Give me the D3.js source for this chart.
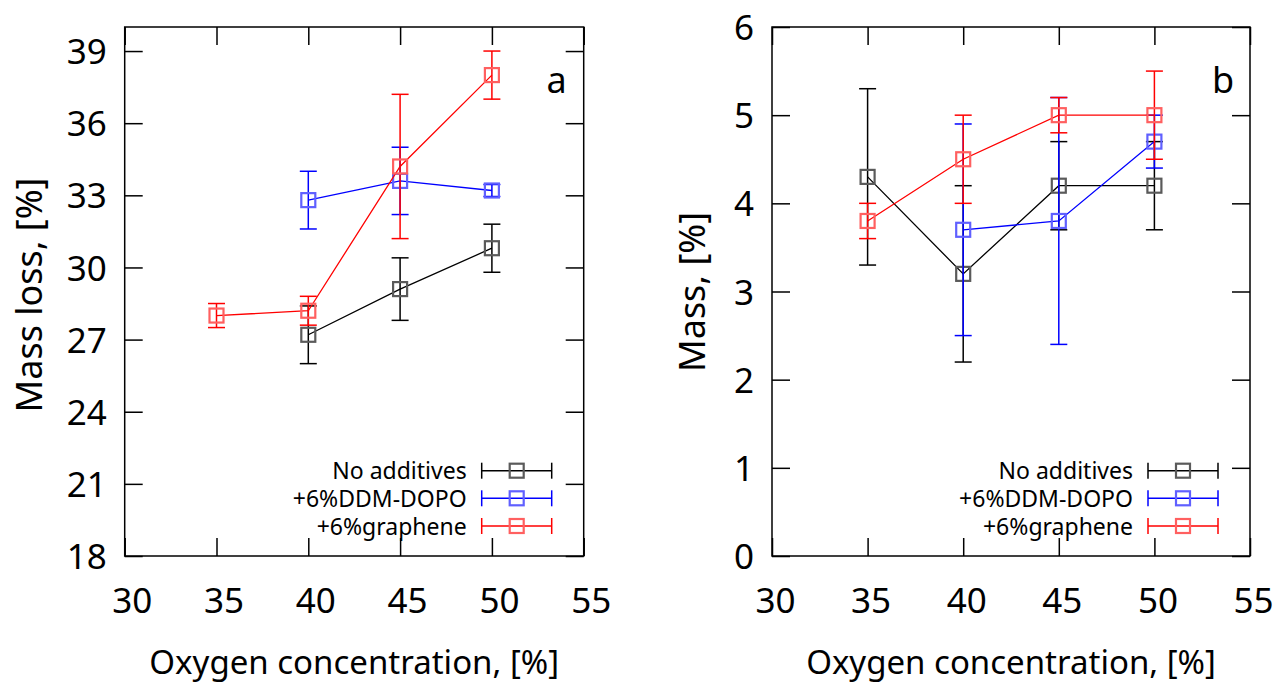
<!DOCTYPE html>
<html>
<head>
<meta charset="utf-8">
<script src="https://cdn.jsdelivr.net/npm/d3@7"></script>
<style>
  body { margin: 0; background: #fff; }
  text { font-family: "Noto Sans", sans-serif; fill: #000; }
</style>
</head>
<body>
<svg width="1274" height="684"></svg>
<script>
// x values shared by both panels
const oxygen = [35, 40, 45, 50];
const xTicks = [30, 35, 40, 45, 50, 55];

// panel a: mass loss
const lossNone = [null, 27.2, 29.1, 30.8];
const lossNoneErr = [null, 1.2, 1.3, 1.0];
const lossDopo = [null, 32.8, 33.6, 33.2];
const lossDopoErr = [null, 1.2, 1.4, 0.25];
const lossGraphene = [28.0, 28.2, 34.2, 38.0];
const lossGrapheneErr = [0.5, 0.6, 3.0, 1.0];
const lossTicks = [18, 21, 24, 27, 30, 33, 36, 39];

// panel b: mass
const massNone = [4.3, 3.2, 4.2, 4.2];
const massNoneErr = [1.0, 1.0, 0.5, 0.5];
const massDopo = [null, 3.7, 3.8, 4.7];
const massDopoErr = [null, 1.2, 1.4, 0.3];
const massGraphene = [3.8, 4.5, 5.0, 5.0];
const massGrapheneErr = [0.2, 0.5, 0.2, 0.5];
const massTicks = [0, 1, 2, 3, 4, 5, 6];

const seriesNames = ["No additives", "+6%DDM-DOPO", "+6%graphene"];
const seriesColors = ["#000000", "#0000ff", "#ff0000"];
const markerColors = ["#5a5a5a", "#6060ff", "#ff6060"];

const svg = d3.select("svg");

function toPoints(vals, errs) {
  return oxygen.map((x, i) => ({ x: x, v: vals[i], e: errs[i] })).filter(d => d.v != null);
}

function drawPanel(p) {
  const x = d3.scaleLinear().domain([30, 55]).range([p.left, p.right]);
  const y = d3.scaleLinear().domain(p.yDomain).range([556, 27]);
  const g = svg.append("g");
  const tick = 18;

  // axes, ticks pointing inwards
  const bottom = g.append("g").attr("transform", "translate(0,556)")
    .call(d3.axisBottom(x).tickValues(xTicks).tickSize(-tick).tickPadding(32));
  bottom.selectAll("text").attr("dx", p.labelShift);
  const left = g.append("g").attr("transform", `translate(${p.left},0)`)
    .call(d3.axisLeft(y).tickValues(p.yTicks).tickSize(-tick).tickPadding(18)
      .tickFormat(d3.format("d")));
  left.selectAll("text").attr("dy", "0.36em");
  g.append("g").attr("transform", "translate(0,27)")
    .call(d3.axisTop(x).tickValues(xTicks).tickSize(-tick).tickFormat(""));
  g.append("g").attr("transform", `translate(${p.right},0)`)
    .call(d3.axisRight(y).tickValues(p.yTicks).tickSize(-tick).tickFormat(""));
  g.selectAll(".domain").remove();
  g.selectAll(".tick line").attr("stroke", "#000").attr("stroke-width", 1.5);
  g.selectAll(".tick text").style("font-size", "35px").style("font-family", "Noto Sans");

  g.append("rect")
    .attr("x", p.left).attr("y", 27)
    .attr("width", p.right - p.left).attr("height", 529)
    .attr("fill", "none").attr("stroke", "#000").attr("stroke-width", 1.5);

  const line = d3.line().x(d => x(d.x)).y(d => y(d.v));

  p.series.forEach((s, k) => {
    const pts = toPoints(s.vals, s.errs);
    const c = seriesColors[k];
    g.append("path").datum(pts).attr("d", line)
      .attr("fill", "none").attr("stroke", c).attr("stroke-width", 1.3);
    const eb = g.append("g").attr("stroke", c).attr("stroke-width", 1.5);
    pts.forEach(d => {
      const cx = x(d.x), y1 = y(d.v + d.e), y2 = y(d.v - d.e);
      eb.append("line").attr("x1", cx).attr("x2", cx).attr("y1", y1).attr("y2", y2);
      eb.append("line").attr("x1", cx - 8.5).attr("x2", cx + 8.5).attr("y1", y1).attr("y2", y1);
      eb.append("line").attr("x1", cx - 8.5).attr("x2", cx + 8.5).attr("y1", y2).attr("y2", y2);
    });
    g.selectAll(null).data(pts).enter().append("rect")
      .attr("x", d => x(d.x) - 7).attr("y", d => y(d.v) - 7)
      .attr("width", 14).attr("height", 14)
      .attr("fill", "none").attr("stroke", markerColors[k]).attr("stroke-width", 2.2);
  });

  // legend
  const legY = [470.7, 498.3, 526];
  seriesNames.forEach((name, k) => {
    const ly = legY[k];
    const x0 = p.right - 102, x1 = p.right - 32, xm = (x0 + x1) / 2;
    g.append("text").attr("x", p.right - 117).attr("y", ly + 8.5)
      .attr("text-anchor", "end").style("font-size", "23px").text(name);
    const lg = g.append("g").attr("stroke", seriesColors[k]).attr("stroke-width", 1.5);
    lg.append("line").attr("x1", x0).attr("x2", x1).attr("y1", ly).attr("y2", ly);
    lg.append("line").attr("x1", x0).attr("x2", x0).attr("y1", ly - 8).attr("y2", ly + 8);
    lg.append("line").attr("x1", x1).attr("x2", x1).attr("y1", ly - 8).attr("y2", ly + 8);
    g.append("rect").attr("x", xm - 7).attr("y", ly - 7).attr("width", 14).attr("height", 14)
      .attr("fill", "none").attr("stroke", markerColors[k]).attr("stroke-width", 2.2);
  });

  // panel letter
  g.append("text").attr("x", p.right - 27).attr("y", 93)
    .attr("text-anchor", "middle").style("font-size", "36px").text(p.letter);

  // axis titles
  g.append("text").attr("x", (p.left + p.right) / 2).attr("y", 674)
    .attr("text-anchor", "middle").style("font-size", "33px")
    .text("Oxygen concentration, [%]");
  g.append("text").attr("transform", `translate(${p.yTitleX},${p.yTitleY}) rotate(-90)`)
    .attr("text-anchor", "middle").style("font-size", "36px").text(p.yTitle);
}

drawPanel({
  left: 124.7, right: 583.7, yDomain: [18, 40], yTicks: lossTicks, labelShift: 7,
  letter: "a", yTitle: "Mass loss, [%]", yTitleX: 42, yTitleY: 295,
  series: [
    { vals: lossNone, errs: lossNoneErr },
    { vals: lossDopo, errs: lossDopoErr },
    { vals: lossGraphene, errs: lossGrapheneErr }
  ]
});

drawPanel({
  left: 772, right: 1250, yDomain: [0, 6], yTicks: massTicks, labelShift: 3,
  letter: "b", yTitle: "Mass, [%]", yTitleX: 705, yTitleY: 292,
  series: [
    { vals: massNone, errs: massNoneErr },
    { vals: massDopo, errs: massDopoErr },
    { vals: massGraphene, errs: massGrapheneErr }
  ]
});
</script>
</body>
</html>
